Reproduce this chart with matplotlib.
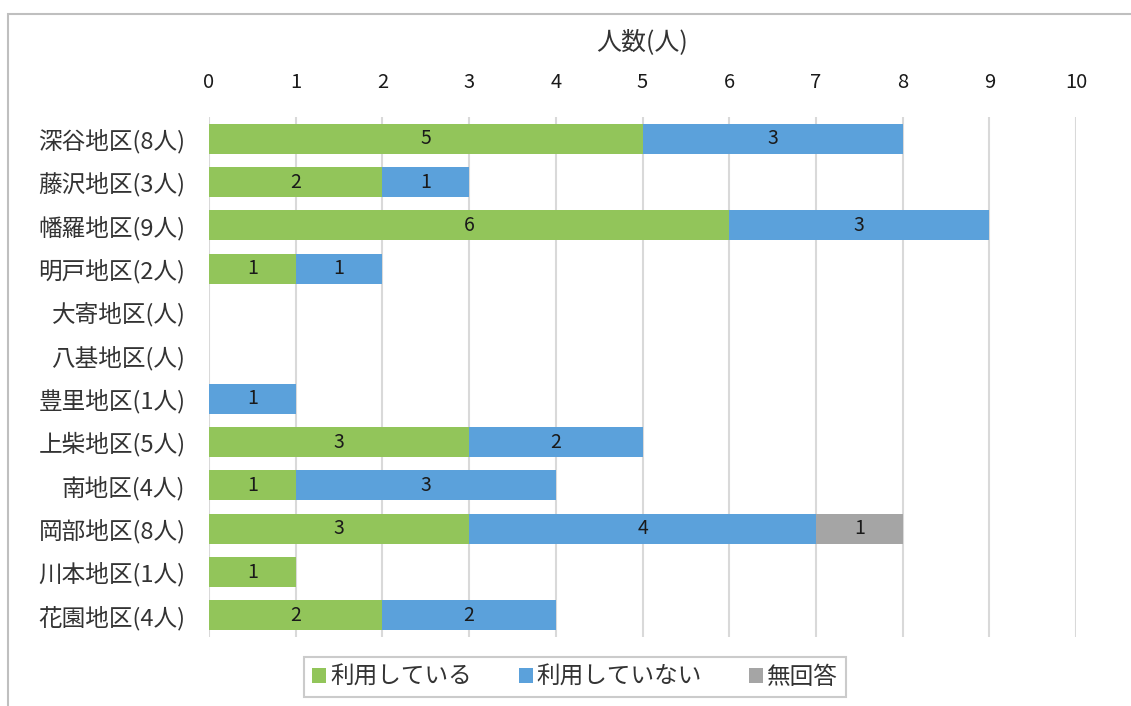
import matplotlib
matplotlib.use('Agg')
import matplotlib.pyplot as plt
from matplotlib.patches import Rectangle

plt.rcParams['font.family'] = ['Noto Sans CJK JP', 'DejaVu Sans']

# --- data ---
districts = ['深谷地区(8人)', '藤沢地区(3人)', '幡羅地区(9人)', '明戸地区(2人)', '大寄地区(人)',
             '八基地区(人)', '豊里地区(1人)', '上柴地区(5人)', '南地区(4人)', '岡部地区(8人)',
             '川本地区(1人)', '花園地区(4人)']
using = [5, 2, 6, 1, 0, 0, 0, 3, 1, 3, 1, 2]
not_using = [3, 1, 3, 1, 0, 0, 1, 2, 3, 4, 0, 2]
no_answer = [0, 0, 0, 0, 0, 0, 0, 0, 0, 1, 0, 0]
series_names = ['利用している', '利用していない', '無回答']
colors = ['#92C55A', '#5BA1DB', '#A5A5A5']
xticks = list(range(0, 11))

fig = plt.figure(figsize=(11.31, 7.06), dpi=100)
ax = fig.add_axes([209 / 1131, 1 - 637 / 706, (1076 - 209) / 1131, (637 - 117) / 706])

y = list(range(len(districts)))
left = [0] * len(districts)
for vals, name, col in zip([using, not_using, no_answer], series_names, colors):
    bars = ax.barh(y, vals, left=left, height=0.69, color=col, label=name, zorder=3)
    for b, v in zip(bars, vals):
        if v > 0:
            ax.text(b.get_x() + b.get_width() / 2, b.get_y() + b.get_height() / 2, str(v),
                    ha='center', va='center', fontsize=14, color='#1a1a1a', zorder=4)
    left = [l + v for l, v in zip(left, vals)]

ax.set_xlim(0, 10)
ax.set_ylim(len(districts) - 0.5, -0.5)
ax.set_yticks(y)
ax.set_yticklabels(districts, fontsize=17, color='#333333')
ax.set_xticks(xticks)
ax.set_xticklabels([str(t) for t in xticks], fontsize=14.5, color='#1a1a1a')
ax.xaxis.tick_top()
ax.tick_params(axis='both', length=0)
ax.tick_params(axis='x', pad=17)
ax.tick_params(axis='y', pad=17)
ax.grid(axis='x', color='#D9D9D9', linewidth=1.5, zorder=0)
for s in ax.spines.values():
    s.set_visible(False)

fig.text(642 / 1131, 1 - 42 / 706, '人数(人)', ha='center', va='center', fontsize=18, color='#333333')

leg = fig.legend(loc='center', bbox_to_anchor=(575 / 1131, 1 - 677 / 706), ncol=3, fontsize=17,
                 frameon=True, fancybox=False, edgecolor='#BFBFBF', handlelength=0.6,
                 handleheight=0.6, handletextpad=0.15, columnspacing=2.0,
                 borderpad=0.35, borderaxespad=0)
leg.get_frame().set_linewidth(1.5)
for t in leg.get_texts():
    t.set_color('#333333')

# outer chart border (cropped on the right and bottom)
fig.patches.append(Rectangle((8 / 1131, -0.1), 1.2, 1 - 14 / 706 + 0.1, transform=fig.transFigure,
                             fill=False, edgecolor='#BFBFBF', linewidth=1.5, zorder=0))

fig.savefig('out.png', dpi=100)
